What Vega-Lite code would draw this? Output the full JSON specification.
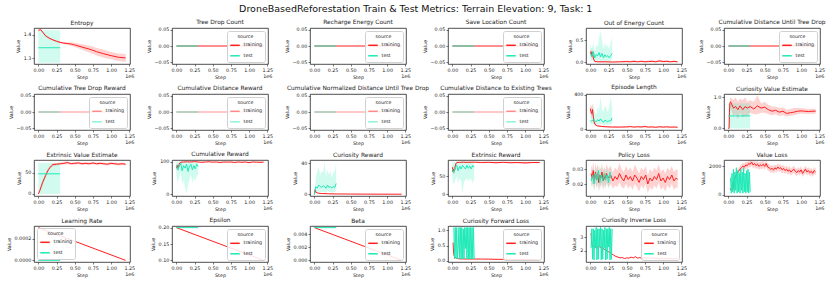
{
"$schema":"https://vega.github.io/schema/vega-lite/v6.json",
"padding":{"left":5,"right":2,"top":3,"bottom":2},
"title":{"text":"DroneBasedReforestation Train & Test Metrics: Terrain Elevation: 9, Task: 1","fontSize":9.5,"fontWeight":"normal","anchor":"middle","offset":5,"color":"#111"},
"config":{
 "font":"DejaVu Sans",
 "view":{"stroke":"#222","strokeWidth":0.8},
 "axis":{"grid":false,"domain":false,"labelFontSize":4.8,"titleFontSize":4.8,"titleFontWeight":"normal","tickSize":2,"tickWidth":0.6,"tickColor":"#222","labelColor":"#222","titleColor":"#222","labelPadding":1.2,"titlePadding":2,"labelOverlap":false},
 "axisX":{"labelFlush":false},
 "axisY":{"titlePadding":3},
 "title":{"fontSize":5.9,"fontWeight":"normal","offset":2,"color":"#222"},
 "legend":{"fillColor":"rgba(255,255,255,0.85)","strokeColor":"#d0d0d0","cornerRadius":2,"padding":2.5,"offset":3,"titleFontSize":4.8,"titleFontWeight":"normal","titleAnchor":"middle","titlePadding":1.5,"labelFontSize":4.8,"labelOffset":3,"symbolType":"stroke","symbolSize":90,"symbolStrokeWidth":1.5,"rowPadding":1.5,"titleColor":"#222","labelColor":"#222"}
},
"resolve":{"scale":{"x":"independent","y":"independent","color":"independent","fill":"independent"},"legend":{"color":"independent","fill":"independent"}},
"columns":6,
"bounds":"flush",
"spacing":{"row":30,"column":42},
"datasets":{
"zero":[{"s":"training","x":0,"y":0},{"s":"training","x":1.2,"y":0},{"s":"test","x":0,"y":0},{"s":"test","x":0.3,"y":0}],
"entropy":[
{"s":"training","x":0,"y":1.42,"lo":1.417,"hi":1.423},{"s":"training","x":0.03,"y":1.423,"lo":1.42,"hi":1.426},{"s":"training","x":0.06,"y":1.412,"lo":1.408,"hi":1.416},{"s":"training","x":0.1,"y":1.396,"lo":1.392,"hi":1.4},{"s":"training","x":0.15,"y":1.386,"lo":1.382,"hi":1.39},{"s":"training","x":0.2,"y":1.379,"lo":1.375,"hi":1.383},{"s":"training","x":0.25,"y":1.373,"lo":1.369,"hi":1.377},{"s":"training","x":0.3,"y":1.368,"lo":1.364,"hi":1.372},{"s":"training","x":0.35,"y":1.365,"lo":1.36,"hi":1.37},{"s":"training","x":0.4,"y":1.363,"lo":1.357,"hi":1.369},{"s":"training","x":0.45,"y":1.361,"lo":1.354,"hi":1.368},{"s":"training","x":0.5,"y":1.357,"lo":1.348,"hi":1.366},{"s":"training","x":0.6,"y":1.348,"lo":1.336,"hi":1.36},{"s":"training","x":0.7,"y":1.339,"lo":1.324,"hi":1.354},{"s":"training","x":0.75,"y":1.334,"lo":1.318,"hi":1.35},{"s":"training","x":0.8,"y":1.328,"lo":1.312,"hi":1.344},{"s":"training","x":0.9,"y":1.319,"lo":1.302,"hi":1.336},{"s":"training","x":1.0,"y":1.311,"lo":1.295,"hi":1.327},{"s":"training","x":1.1,"y":1.304,"lo":1.288,"hi":1.32},{"s":"training","x":1.2,"y":1.301,"lo":1.284,"hi":1.318},
{"s":"test","x":0,"y":1.345,"lo":1.28,"hi":1.42},{"s":"test","x":0.1,"y":1.345,"lo":1.28,"hi":1.42},{"s":"test","x":0.2,"y":1.345,"lo":1.28,"hi":1.42},{"s":"test","x":0.3,"y":1.345,"lo":1.28,"hi":1.42}],
"outEnergy":[
{"s":"training","x":0,"y":0.2,"lo":0.12,"hi":0.28},{"s":"training","x":0.01,"y":0.24,"lo":0.15,"hi":0.32},{"s":"training","x":0.02,"y":0.15,"lo":0.08,"hi":0.25},{"s":"training","x":0.03,"y":0.22,"lo":0.12,"hi":0.3},{"s":"training","x":0.04,"y":0.1,"lo":0.05,"hi":0.18},{"s":"training","x":0.05,"y":0.05,"lo":0.02,"hi":0.08},{"s":"training","x":0.06,"y":0.02,"lo":0,"hi":0.04},{"s":"training","x":0.1,"y":0.01,"lo":0,"hi":0.02},{"s":"training","x":0.2,"y":0.01,"lo":0,"hi":0.02},{"s":"training","x":0.3,"y":0.005,"lo":0,"hi":0.01},{"s":"training","x":0.4,"y":0.01,"lo":0,"hi":0.02},{"s":"training","x":0.5,"y":0.015,"lo":0,"hi":0.04},{"s":"training","x":0.55,"y":0.01,"lo":0,"hi":0.03},{"s":"training","x":0.6,"y":0.02,"lo":0,"hi":0.05},{"s":"training","x":0.65,"y":0.01,"lo":0,"hi":0.02},{"s":"training","x":0.7,"y":0.02,"lo":0,"hi":0.04},{"s":"training","x":0.75,"y":0.01,"lo":0,"hi":0.03},{"s":"training","x":0.8,"y":0.015,"lo":0,"hi":0.04},{"s":"training","x":0.85,"y":0.02,"lo":0,"hi":0.05},{"s":"training","x":0.9,"y":0.01,"lo":0,"hi":0.03},{"s":"training","x":0.95,"y":0.03,"lo":0,"hi":0.06},{"s":"training","x":1.0,"y":0.015,"lo":0,"hi":0.04},{"s":"training","x":1.05,"y":0.02,"lo":0,"hi":0.05},{"s":"training","x":1.1,"y":0.01,"lo":0,"hi":0.03},{"s":"training","x":1.15,"y":0.02,"lo":0,"hi":0.04},{"s":"training","x":1.2,"y":0.01,"lo":0,"hi":0.02},
{"s":"test","x":0,"y":0.22,"lo":0.05,"hi":0.42},{"s":"test","x":0.02,"y":0.12,"lo":0.02,"hi":0.3},{"s":"test","x":0.04,"y":0.25,"lo":0.08,"hi":0.45},{"s":"test","x":0.06,"y":0.1,"lo":0.02,"hi":0.25},{"s":"test","x":0.08,"y":0.18,"lo":0.05,"hi":0.4},{"s":"test","x":0.1,"y":0.14,"lo":0.03,"hi":0.35},{"s":"test","x":0.12,"y":0.22,"lo":0.05,"hi":0.55},{"s":"test","x":0.14,"y":0.12,"lo":0.02,"hi":0.72},{"s":"test","x":0.16,"y":0.2,"lo":0.05,"hi":0.5},{"s":"test","x":0.18,"y":0.1,"lo":0.02,"hi":0.3},{"s":"test","x":0.2,"y":0.17,"lo":0.04,"hi":0.45},{"s":"test","x":0.22,"y":0.12,"lo":0.03,"hi":0.35},{"s":"test","x":0.24,"y":0.15,"lo":0.03,"hi":0.4},{"s":"test","x":0.26,"y":0.1,"lo":0.02,"hi":0.3},{"s":"test","x":0.28,"y":0.15,"lo":0.04,"hi":0.45},{"s":"test","x":0.3,"y":0.2,"lo":0.05,"hi":0.6}],
"episodeLength":[
{"s":"training","x":0,"y":240,"lo":180,"hi":300},{"s":"training","x":0.01,"y":200,"lo":150,"hi":260},{"s":"training","x":0.02,"y":180,"lo":120,"hi":280},{"s":"training","x":0.03,"y":230,"lo":160,"hi":300},{"s":"training","x":0.04,"y":150,"lo":100,"hi":220},{"s":"training","x":0.05,"y":90,"lo":60,"hi":140},{"s":"training","x":0.06,"y":60,"lo":40,"hi":90},{"s":"training","x":0.08,"y":45,"lo":35,"hi":60},{"s":"training","x":0.1,"y":38,"lo":30,"hi":48},{"s":"training","x":0.15,"y":32,"lo":26,"hi":40},{"s":"training","x":0.2,"y":28,"lo":22,"hi":35},{"s":"training","x":0.3,"y":25,"lo":20,"hi":30},{"s":"training","x":0.4,"y":24,"lo":19,"hi":30},{"s":"training","x":0.5,"y":26,"lo":20,"hi":35},{"s":"training","x":0.55,"y":30,"lo":22,"hi":40},{"s":"training","x":0.6,"y":24,"lo":18,"hi":30},{"s":"training","x":0.65,"y":28,"lo":20,"hi":38},{"s":"training","x":0.7,"y":25,"lo":18,"hi":32},{"s":"training","x":0.75,"y":30,"lo":22,"hi":42},{"s":"training","x":0.8,"y":24,"lo":18,"hi":30},{"s":"training","x":0.85,"y":26,"lo":20,"hi":34},{"s":"training","x":0.9,"y":22,"lo":17,"hi":28},{"s":"training","x":0.95,"y":28,"lo":20,"hi":36},{"s":"training","x":1.0,"y":24,"lo":18,"hi":30},{"s":"training","x":1.05,"y":27,"lo":20,"hi":35},{"s":"training","x":1.1,"y":23,"lo":17,"hi":28},{"s":"training","x":1.15,"y":25,"lo":19,"hi":32},{"s":"training","x":1.2,"y":22,"lo":17,"hi":27},
{"s":"test","x":0,"y":100,"lo":60,"hi":160},{"s":"test","x":0.02,"y":90,"lo":50,"hi":180},{"s":"test","x":0.04,"y":115,"lo":60,"hi":300},{"s":"test","x":0.06,"y":100,"lo":55,"hi":200},{"s":"test","x":0.08,"y":85,"lo":50,"hi":170},{"s":"test","x":0.1,"y":110,"lo":60,"hi":260},{"s":"test","x":0.12,"y":95,"lo":55,"hi":220},{"s":"test","x":0.14,"y":120,"lo":60,"hi":390},{"s":"test","x":0.16,"y":95,"lo":50,"hi":230},{"s":"test","x":0.18,"y":80,"lo":45,"hi":200},{"s":"test","x":0.2,"y":105,"lo":55,"hi":280},{"s":"test","x":0.22,"y":95,"lo":50,"hi":240},{"s":"test","x":0.24,"y":85,"lo":50,"hi":200},{"s":"test","x":0.26,"y":100,"lo":55,"hi":260},{"s":"test","x":0.28,"y":95,"lo":50,"hi":380},{"s":"test","x":0.3,"y":130,"lo":70,"hi":250}],
"curiosityValue":[
{"s":"training","x":0,"y":0,"lo":0,"hi":0},{"s":"training","x":0.01,"y":0,"lo":0,"hi":0.05},{"s":"training","x":0.015,"y":0.5,"lo":0.2,"hi":0.8},{"s":"training","x":0.02,"y":0.8,"lo":0.6,"hi":0.95},{"s":"training","x":0.03,"y":0.85,"lo":0.65,"hi":1.0},{"s":"training","x":0.05,"y":0.75,"lo":0.5,"hi":0.95},{"s":"training","x":0.07,"y":0.65,"lo":0.4,"hi":0.9},{"s":"training","x":0.1,"y":0.7,"lo":0.45,"hi":1.0},{"s":"training","x":0.13,"y":0.6,"lo":0.3,"hi":0.85},{"s":"training","x":0.16,"y":0.72,"lo":0.5,"hi":0.95},{"s":"training","x":0.2,"y":0.6,"lo":0.35,"hi":0.9},{"s":"training","x":0.23,"y":0.7,"lo":0.4,"hi":1.0},{"s":"training","x":0.26,"y":0.65,"lo":0.4,"hi":0.85},{"s":"training","x":0.3,"y":0.7,"lo":0.5,"hi":0.9},{"s":"training","x":0.35,"y":0.62,"lo":0.45,"hi":0.85},{"s":"training","x":0.4,"y":0.72,"lo":0.45,"hi":1.05},{"s":"training","x":0.45,"y":0.65,"lo":0.5,"hi":0.8},{"s":"training","x":0.5,"y":0.68,"lo":0.5,"hi":0.85},{"s":"training","x":0.55,"y":0.6,"lo":0.45,"hi":0.75},{"s":"training","x":0.6,"y":0.55,"lo":0.42,"hi":0.7},{"s":"training","x":0.65,"y":0.58,"lo":0.45,"hi":0.7},{"s":"training","x":0.7,"y":0.52,"lo":0.4,"hi":0.65},{"s":"training","x":0.75,"y":0.55,"lo":0.42,"hi":0.68},{"s":"training","x":0.8,"y":0.48,"lo":0.38,"hi":0.6},{"s":"training","x":0.85,"y":0.5,"lo":0.4,"hi":0.62},{"s":"training","x":0.9,"y":0.52,"lo":0.42,"hi":0.65},{"s":"training","x":0.95,"y":0.55,"lo":0.45,"hi":0.65},{"s":"training","x":1.0,"y":0.56,"lo":0.48,"hi":0.65},{"s":"training","x":1.05,"y":0.55,"lo":0.47,"hi":0.64},{"s":"training","x":1.1,"y":0.54,"lo":0.46,"hi":0.62},{"s":"training","x":1.15,"y":0.55,"lo":0.47,"hi":0.63},{"s":"training","x":1.2,"y":0.55,"lo":0.47,"hi":0.63},
{"s":"test","x":0,"y":0.4,"lo":0,"hi":0.8},{"s":"test","x":0.1,"y":0.4,"lo":0,"hi":0.8},{"s":"test","x":0.2,"y":0.4,"lo":0,"hi":0.8},{"s":"test","x":0.3,"y":0.4,"lo":0,"hi":0.8}],
"extrinsicValue":[
{"s":"training","x":0,"y":0,"lo":-2,"hi":2},{"s":"training","x":0.02,"y":8,"lo":4,"hi":12},{"s":"training","x":0.04,"y":18,"lo":12,"hi":24},{"s":"training","x":0.06,"y":28,"lo":22,"hi":34},{"s":"training","x":0.08,"y":36,"lo":30,"hi":42},{"s":"training","x":0.1,"y":44,"lo":38,"hi":50},{"s":"training","x":0.12,"y":52,"lo":46,"hi":58},{"s":"training","x":0.14,"y":58,"lo":53,"hi":63},{"s":"training","x":0.16,"y":63,"lo":59,"hi":67},{"s":"training","x":0.18,"y":67,"lo":63,"hi":71},{"s":"training","x":0.2,"y":70,"lo":66,"hi":73},{"s":"training","x":0.25,"y":71,"lo":68,"hi":74},{"s":"training","x":0.3,"y":72,"lo":69,"hi":75},{"s":"training","x":0.35,"y":73,"lo":70,"hi":76},{"s":"training","x":0.4,"y":75,"lo":71,"hi":78},{"s":"training","x":0.45,"y":72,"lo":70,"hi":75},{"s":"training","x":0.5,"y":73,"lo":70,"hi":76},{"s":"training","x":0.55,"y":74,"lo":71,"hi":77},{"s":"training","x":0.6,"y":72,"lo":69,"hi":75},{"s":"training","x":0.65,"y":73,"lo":70,"hi":76},{"s":"training","x":0.7,"y":72,"lo":69,"hi":75},{"s":"training","x":0.75,"y":74,"lo":71,"hi":76},{"s":"training","x":0.8,"y":72,"lo":69,"hi":75},{"s":"training","x":0.85,"y":73,"lo":70,"hi":76},{"s":"training","x":0.9,"y":72,"lo":69,"hi":75},{"s":"training","x":0.95,"y":71,"lo":68,"hi":74},{"s":"training","x":1.0,"y":73,"lo":70,"hi":76},{"s":"training","x":1.05,"y":72,"lo":69,"hi":75},{"s":"training","x":1.1,"y":71,"lo":68,"hi":74},{"s":"training","x":1.15,"y":72,"lo":69,"hi":75},{"s":"training","x":1.2,"y":71,"lo":68,"hi":74},
{"s":"test","x":0,"y":48,"lo":0,"hi":74},{"s":"test","x":0.1,"y":48,"lo":0,"hi":74},{"s":"test","x":0.2,"y":48,"lo":0,"hi":74},{"s":"test","x":0.3,"y":48,"lo":0,"hi":74}],
"cumReward":[
{"s":"training","x":0,"y":85,"lo":75,"hi":95},{"s":"training","x":0.01,"y":80,"lo":70,"hi":90},{"s":"training","x":0.02,"y":88,"lo":78,"hi":96},{"s":"training","x":0.03,"y":82,"lo":72,"hi":92},{"s":"training","x":0.04,"y":92,"lo":85,"hi":98},{"s":"training","x":0.05,"y":96,"lo":90,"hi":100},{"s":"training","x":0.06,"y":98,"lo":95,"hi":100},{"s":"training","x":0.08,"y":99,"lo":97,"hi":100},{"s":"training","x":0.1,"y":99,"lo":98,"hi":100},{"s":"training","x":0.15,"y":99.5,"lo":99,"hi":100},{"s":"training","x":0.2,"y":99,"lo":98,"hi":100},{"s":"training","x":0.25,"y":100,"lo":99,"hi":100},{"s":"training","x":0.3,"y":99,"lo":98,"hi":100},{"s":"training","x":0.35,"y":98,"lo":96,"hi":100},{"s":"training","x":0.4,"y":99,"lo":98,"hi":100},{"s":"training","x":0.45,"y":99.5,"lo":99,"hi":100},{"s":"training","x":0.5,"y":98.5,"lo":97,"hi":100},{"s":"training","x":0.55,"y":99,"lo":98,"hi":100},{"s":"training","x":0.6,"y":97.5,"lo":95,"hi":100},{"s":"training","x":0.65,"y":99,"lo":98,"hi":100},{"s":"training","x":0.7,"y":98.5,"lo":97,"hi":100},{"s":"training","x":0.75,"y":99,"lo":98,"hi":100},{"s":"training","x":0.8,"y":97.5,"lo":95,"hi":100},{"s":"training","x":0.85,"y":99,"lo":98,"hi":100},{"s":"training","x":0.9,"y":98,"lo":96,"hi":100},{"s":"training","x":0.95,"y":99,"lo":98,"hi":100},{"s":"training","x":1.0,"y":97,"lo":94,"hi":100},{"s":"training","x":1.05,"y":99,"lo":98,"hi":100},{"s":"training","x":1.1,"y":98.5,"lo":97,"hi":100},{"s":"training","x":1.15,"y":98,"lo":96,"hi":100},{"s":"training","x":1.2,"y":98.5,"lo":97,"hi":100},
{"s":"test","x":0,"y":90,"lo":60,"hi":100},{"s":"test","x":0.02,"y":75,"lo":35,"hi":100},{"s":"test","x":0.04,"y":88,"lo":50,"hi":100},{"s":"test","x":0.06,"y":95,"lo":70,"hi":100},{"s":"test","x":0.08,"y":72,"lo":30,"hi":100},{"s":"test","x":0.1,"y":88,"lo":45,"hi":100},{"s":"test","x":0.12,"y":80,"lo":20,"hi":100},{"s":"test","x":0.14,"y":92,"lo":0,"hi":100},{"s":"test","x":0.16,"y":70,"lo":30,"hi":100},{"s":"test","x":0.18,"y":86,"lo":45,"hi":100},{"s":"test","x":0.2,"y":92,"lo":60,"hi":100},{"s":"test","x":0.22,"y":75,"lo":35,"hi":100},{"s":"test","x":0.24,"y":88,"lo":50,"hi":100},{"s":"test","x":0.26,"y":78,"lo":40,"hi":100},{"s":"test","x":0.28,"y":92,"lo":55,"hi":100},{"s":"test","x":0.3,"y":85,"lo":60,"hi":100}],
"curiosityReward":[
{"s":"training","x":0,"y":0,"lo":0,"hi":0},{"s":"training","x":0.01,"y":6,"lo":3,"hi":9},{"s":"training","x":0.02,"y":3,"lo":2,"hi":4},{"s":"training","x":0.04,"y":2,"lo":1.5,"hi":2.5},{"s":"training","x":0.06,"y":1.5,"lo":1.2,"hi":1.8},{"s":"training","x":0.1,"y":1.2,"lo":1,"hi":1.4},{"s":"training","x":0.2,"y":0.8,"lo":0.6,"hi":1},{"s":"training","x":0.3,"y":0.6,"lo":0.5,"hi":0.7},{"s":"training","x":0.5,"y":0.5,"lo":0.4,"hi":0.6},{"s":"training","x":0.7,"y":0.4,"lo":0.3,"hi":0.5},{"s":"training","x":0.9,"y":0.35,"lo":0.3,"hi":0.4},{"s":"training","x":1.2,"y":0.3,"lo":0.25,"hi":0.35},
{"s":"test","x":0,"y":0,"lo":0,"hi":0},{"s":"test","x":0.02,"y":10,"lo":3,"hi":22},{"s":"test","x":0.04,"y":8,"lo":3,"hi":30},{"s":"test","x":0.06,"y":12,"lo":4,"hi":35},{"s":"test","x":0.08,"y":10,"lo":3,"hi":25},{"s":"test","x":0.1,"y":9,"lo":3,"hi":30},{"s":"test","x":0.12,"y":11,"lo":3,"hi":28},{"s":"test","x":0.14,"y":10,"lo":3,"hi":42},{"s":"test","x":0.16,"y":8,"lo":2,"hi":22},{"s":"test","x":0.18,"y":12,"lo":4,"hi":32},{"s":"test","x":0.2,"y":9,"lo":3,"hi":25},{"s":"test","x":0.22,"y":10,"lo":3,"hi":30},{"s":"test","x":0.24,"y":8,"lo":2,"hi":22},{"s":"test","x":0.26,"y":10,"lo":3,"hi":28},{"s":"test","x":0.28,"y":9,"lo":3,"hi":30},{"s":"test","x":0.3,"y":14,"lo":5,"hi":40}],
"extrinsicReward":[
{"s":"training","x":0,"y":75,"lo":65,"hi":85},{"s":"training","x":0.01,"y":62,"lo":52,"hi":72},{"s":"training","x":0.02,"y":70,"lo":60,"hi":80},{"s":"training","x":0.03,"y":65,"lo":55,"hi":75},{"s":"training","x":0.04,"y":78,"lo":70,"hi":85},{"s":"training","x":0.05,"y":85,"lo":80,"hi":89},{"s":"training","x":0.06,"y":88,"lo":86,"hi":90},{"s":"training","x":0.1,"y":88.5,"lo":87,"hi":90},{"s":"training","x":0.15,"y":89,"lo":88,"hi":90},{"s":"training","x":0.2,"y":88.5,"lo":87,"hi":90},{"s":"training","x":0.3,"y":89,"lo":88,"hi":90},{"s":"training","x":0.4,"y":88,"lo":86,"hi":90},{"s":"training","x":0.5,"y":88.5,"lo":87,"hi":90},{"s":"training","x":0.6,"y":87.5,"lo":85,"hi":90},{"s":"training","x":0.7,"y":88.5,"lo":87,"hi":90},{"s":"training","x":0.8,"y":87.5,"lo":85,"hi":90},{"s":"training","x":0.9,"y":88,"lo":86,"hi":90},{"s":"training","x":1.0,"y":87,"lo":84,"hi":90},{"s":"training","x":1.1,"y":88,"lo":86,"hi":90},{"s":"training","x":1.2,"y":88,"lo":86,"hi":90},
{"s":"test","x":0,"y":70,"lo":40,"hi":90},{"s":"test","x":0.02,"y":60,"lo":25,"hi":88},{"s":"test","x":0.04,"y":75,"lo":40,"hi":90},{"s":"test","x":0.06,"y":80,"lo":50,"hi":90},{"s":"test","x":0.08,"y":65,"lo":30,"hi":88},{"s":"test","x":0.1,"y":78,"lo":45,"hi":90},{"s":"test","x":0.12,"y":70,"lo":35,"hi":90},{"s":"test","x":0.14,"y":80,"lo":0,"hi":90},{"s":"test","x":0.16,"y":75,"lo":35,"hi":90},{"s":"test","x":0.18,"y":70,"lo":40,"hi":90},{"s":"test","x":0.2,"y":80,"lo":45,"hi":90},{"s":"test","x":0.22,"y":72,"lo":35,"hi":90},{"s":"test","x":0.24,"y":78,"lo":45,"hi":90},{"s":"test","x":0.26,"y":70,"lo":40,"hi":90},{"s":"test","x":0.28,"y":80,"lo":30,"hi":90},{"s":"test","x":0.3,"y":75,"lo":45,"hi":90}],
"policyLoss":[
{"s":"training","x":0.01,"y":0.027,"lo":0.021,"hi":0.033},{"s":"training","x":0.025,"y":0.024,"lo":0.018,"hi":0.03},{"s":"training","x":0.04,"y":0.029,"lo":0.022,"hi":0.035},{"s":"training","x":0.055,"y":0.022,"lo":0.016,"hi":0.028},{"s":"training","x":0.07,"y":0.028,"lo":0.021,"hi":0.034},{"s":"training","x":0.085,"y":0.023,"lo":0.017,"hi":0.03},{"s":"training","x":0.1,"y":0.027,"lo":0.02,"hi":0.033},{"s":"training","x":0.115,"y":0.021,"lo":0.015,"hi":0.028},{"s":"training","x":0.13,"y":0.026,"lo":0.02,"hi":0.032},{"s":"training","x":0.145,"y":0.024,"lo":0.018,"hi":0.03},{"s":"training","x":0.16,"y":0.028,"lo":0.021,"hi":0.034},{"s":"training","x":0.175,"y":0.022,"lo":0.016,"hi":0.029},{"s":"training","x":0.19,"y":0.025,"lo":0.019,"hi":0.031},{"s":"training","x":0.205,"y":0.023,"lo":0.017,"hi":0.029},{"s":"training","x":0.22,"y":0.027,"lo":0.021,"hi":0.033},{"s":"training","x":0.25,"y":0.024,"lo":0.018,"hi":0.03},{"s":"training","x":0.28,"y":0.026,"lo":0.02,"hi":0.032},{"s":"training","x":0.31,"y":0.022,"lo":0.017,"hi":0.028},{"s":"training","x":0.34,"y":0.025,"lo":0.019,"hi":0.031},{"s":"training","x":0.37,"y":0.023,"lo":0.018,"hi":0.029},{"s":"training","x":0.4,"y":0.027,"lo":0.021,"hi":0.034},{"s":"training","x":0.43,"y":0.024,"lo":0.018,"hi":0.03},{"s":"training","x":0.46,"y":0.022,"lo":0.017,"hi":0.028},{"s":"training","x":0.49,"y":0.026,"lo":0.02,"hi":0.032},{"s":"training","x":0.52,"y":0.023,"lo":0.017,"hi":0.029},{"s":"training","x":0.55,"y":0.025,"lo":0.019,"hi":0.031},{"s":"training","x":0.58,"y":0.022,"lo":0.016,"hi":0.028},{"s":"training","x":0.61,"y":0.026,"lo":0.02,"hi":0.033},{"s":"training","x":0.64,"y":0.024,"lo":0.018,"hi":0.03},{"s":"training","x":0.67,"y":0.021,"lo":0.015,"hi":0.027},{"s":"training","x":0.7,"y":0.025,"lo":0.019,"hi":0.031},{"s":"training","x":0.73,"y":0.023,"lo":0.017,"hi":0.029},{"s":"training","x":0.76,"y":0.026,"lo":0.02,"hi":0.032},{"s":"training","x":0.79,"y":0.02,"lo":0.014,"hi":0.026},{"s":"training","x":0.82,"y":0.024,"lo":0.018,"hi":0.03},{"s":"training","x":0.85,"y":0.022,"lo":0.016,"hi":0.028},{"s":"training","x":0.88,"y":0.025,"lo":0.019,"hi":0.031},{"s":"training","x":0.91,"y":0.023,"lo":0.017,"hi":0.029},{"s":"training","x":0.94,"y":0.027,"lo":0.021,"hi":0.033},{"s":"training","x":0.97,"y":0.022,"lo":0.016,"hi":0.028},{"s":"training","x":1.0,"y":0.024,"lo":0.018,"hi":0.03},{"s":"training","x":1.03,"y":0.021,"lo":0.015,"hi":0.027},{"s":"training","x":1.06,"y":0.025,"lo":0.019,"hi":0.031},{"s":"training","x":1.09,"y":0.023,"lo":0.017,"hi":0.029},{"s":"training","x":1.12,"y":0.026,"lo":0.02,"hi":0.032},{"s":"training","x":1.15,"y":0.022,"lo":0.016,"hi":0.028},{"s":"training","x":1.18,"y":0.024,"lo":0.018,"hi":0.03},{"s":"training","x":1.2,"y":0.023,"lo":0.017,"hi":0.029},
{"s":"test","x":0.01,"y":0.022,"lo":0.017,"hi":0.027},{"s":"test","x":0.03,"y":0.026,"lo":0.021,"hi":0.031},{"s":"test","x":0.05,"y":0.02,"lo":0.015,"hi":0.025},{"s":"test","x":0.07,"y":0.027,"lo":0.022,"hi":0.032},{"s":"test","x":0.09,"y":0.023,"lo":0.018,"hi":0.028},{"s":"test","x":0.11,"y":0.029,"lo":0.023,"hi":0.034},{"s":"test","x":0.13,"y":0.021,"lo":0.015,"hi":0.026},{"s":"test","x":0.15,"y":0.026,"lo":0.021,"hi":0.031},{"s":"test","x":0.17,"y":0.022,"lo":0.017,"hi":0.027},{"s":"test","x":0.19,"y":0.027,"lo":0.022,"hi":0.032},{"s":"test","x":0.21,"y":0.023,"lo":0.018,"hi":0.028},{"s":"test","x":0.23,"y":0.026,"lo":0.021,"hi":0.031},{"s":"test","x":0.25,"y":0.021,"lo":0.016,"hi":0.026},{"s":"test","x":0.27,"y":0.028,"lo":0.023,"hi":0.033},{"s":"test","x":0.28,"y":0.024,"lo":0.019,"hi":0.029}],
"valueLoss":[
{"s":"training","x":0.02,"y":400,"lo":300,"hi":500},{"s":"training","x":0.04,"y":350,"lo":250,"hi":450},{"s":"training","x":0.06,"y":300,"lo":200,"hi":450},{"s":"training","x":0.07,"y":700,"lo":450,"hi":950},{"s":"training","x":0.08,"y":1000,"lo":750,"hi":1250},{"s":"training","x":0.1,"y":1300,"lo":1050,"hi":1550},{"s":"training","x":0.12,"y":1500,"lo":1250,"hi":1750},{"s":"training","x":0.14,"y":1650,"lo":1400,"hi":1900},{"s":"training","x":0.16,"y":1800,"lo":1550,"hi":2050},{"s":"training","x":0.18,"y":1900,"lo":1650,"hi":2150},{"s":"training","x":0.2,"y":2000,"lo":1750,"hi":2250},{"s":"training","x":0.22,"y":1950,"lo":1700,"hi":2200},{"s":"training","x":0.24,"y":2100,"lo":1850,"hi":2350},{"s":"training","x":0.26,"y":2050,"lo":1800,"hi":2300},{"s":"training","x":0.28,"y":2200,"lo":1950,"hi":2400},{"s":"training","x":0.3,"y":2150,"lo":1900,"hi":2400},{"s":"training","x":0.32,"y":2300,"lo":2050,"hi":2450},{"s":"training","x":0.34,"y":2100,"lo":1850,"hi":2350},{"s":"training","x":0.36,"y":2200,"lo":1950,"hi":2400},{"s":"training","x":0.38,"y":2050,"lo":1800,"hi":2300},{"s":"training","x":0.4,"y":2150,"lo":1900,"hi":2400},{"s":"training","x":0.42,"y":2000,"lo":1750,"hi":2250},{"s":"training","x":0.44,"y":2100,"lo":1850,"hi":2350},{"s":"training","x":0.46,"y":2050,"lo":1800,"hi":2300},{"s":"training","x":0.48,"y":2150,"lo":1900,"hi":2400},{"s":"training","x":0.5,"y":2000,"lo":1750,"hi":2250},{"s":"training","x":0.52,"y":2200,"lo":1950,"hi":2400},{"s":"training","x":0.54,"y":1950,"lo":1700,"hi":2200},{"s":"training","x":0.56,"y":1900,"lo":1650,"hi":2150},{"s":"training","x":0.58,"y":1800,"lo":1550,"hi":2050},{"s":"training","x":0.6,"y":1850,"lo":1600,"hi":2100},{"s":"training","x":0.62,"y":1750,"lo":1500,"hi":2000},{"s":"training","x":0.64,"y":1900,"lo":1650,"hi":2150},{"s":"training","x":0.66,"y":1800,"lo":1550,"hi":2050},{"s":"training","x":0.68,"y":1950,"lo":1700,"hi":2200},{"s":"training","x":0.7,"y":1850,"lo":1600,"hi":2100},{"s":"training","x":0.72,"y":1900,"lo":1650,"hi":2150},{"s":"training","x":0.74,"y":1750,"lo":1500,"hi":2000},{"s":"training","x":0.76,"y":1850,"lo":1600,"hi":2100},{"s":"training","x":0.78,"y":1700,"lo":1450,"hi":1950},{"s":"training","x":0.8,"y":1800,"lo":1550,"hi":2050},{"s":"training","x":0.82,"y":1650,"lo":1400,"hi":1900},{"s":"training","x":0.84,"y":1750,"lo":1500,"hi":2000},{"s":"training","x":0.86,"y":1600,"lo":1350,"hi":1850},{"s":"training","x":0.88,"y":1700,"lo":1450,"hi":1950},{"s":"training","x":0.9,"y":1800,"lo":1550,"hi":2050},{"s":"training","x":0.92,"y":1650,"lo":1400,"hi":1900},{"s":"training","x":0.94,"y":1550,"lo":1300,"hi":1800},{"s":"training","x":0.96,"y":1700,"lo":1450,"hi":1950},{"s":"training","x":0.98,"y":1600,"lo":1350,"hi":1850},{"s":"training","x":1.0,"y":1750,"lo":1500,"hi":2000},{"s":"training","x":1.02,"y":1500,"lo":1250,"hi":1750},{"s":"training","x":1.04,"y":1650,"lo":1400,"hi":1900},{"s":"training","x":1.06,"y":1800,"lo":1550,"hi":2050},{"s":"training","x":1.08,"y":1600,"lo":1350,"hi":1850},{"s":"training","x":1.1,"y":1700,"lo":1450,"hi":1950},{"s":"training","x":1.12,"y":1550,"lo":1300,"hi":1800},{"s":"training","x":1.14,"y":1650,"lo":1400,"hi":1900},{"s":"training","x":1.16,"y":1500,"lo":1250,"hi":1750},{"s":"training","x":1.18,"y":1700,"lo":1450,"hi":1950},{"s":"training","x":1.2,"y":1600,"lo":1350,"hi":1850},
{"s":"test","x":0.03,"y":1200},{"s":"test","x":0.04,"y":100},{"s":"test","x":0.05,"y":1500},{"s":"test","x":0.06,"y":200},{"s":"test","x":0.07,"y":1800},{"s":"test","x":0.08,"y":100},{"s":"test","x":0.09,"y":1600},{"s":"test","x":0.1,"y":300},{"s":"test","x":0.11,"y":1900},{"s":"test","x":0.12,"y":100},{"s":"test","x":0.13,"y":1700},{"s":"test","x":0.14,"y":200},{"s":"test","x":0.15,"y":1500},{"s":"test","x":0.16,"y":100},{"s":"test","x":0.17,"y":1800},{"s":"test","x":0.18,"y":300},{"s":"test","x":0.19,"y":1600},{"s":"test","x":0.2,"y":100},{"s":"test","x":0.21,"y":1900},{"s":"test","x":0.22,"y":200},{"s":"test","x":0.23,"y":1500},{"s":"test","x":0.24,"y":100},{"s":"test","x":0.25,"y":1700},{"s":"test","x":0.26,"y":200},{"s":"test","x":0.27,"y":1800},{"s":"test","x":0.28,"y":100},{"s":"test","x":0.29,"y":1600},{"s":"test","x":0.3,"y":200}],
"learningRate":[{"s":"training","x":0,"y":0.0003},{"s":"training","x":1.2,"y":0.0},{"s":"test","x":0,"y":0},{"s":"test","x":0.3,"y":0}],
"epsilon":[{"s":"training","x":0,"y":0.2},{"s":"training","x":1.2,"y":0.1},{"s":"test","x":0,"y":0.2},{"s":"test","x":0.3,"y":0.2}],
"beta":[{"s":"training","x":0,"y":0.005},{"s":"training","x":1.2,"y":0.00001},{"s":"test","x":0,"y":0.005},{"s":"test","x":0.3,"y":0.005}],
"forwardLoss":[
{"s":"training","x":0.01,"y":0.6},{"s":"training","x":0.015,"y":0.35},{"s":"training","x":0.02,"y":0.2},{"s":"training","x":0.03,"y":0.12},{"s":"training","x":0.05,"y":0.08},{"s":"training","x":0.08,"y":0.06},{"s":"training","x":0.1,"y":0.055},{"s":"training","x":0.2,"y":0.05},{"s":"training","x":0.3,"y":0.05},{"s":"training","x":0.4,"y":0.048},{"s":"training","x":0.5,"y":0.045},{"s":"training","x":0.6,"y":0.04},{"s":"training","x":0.7,"y":0.038},{"s":"training","x":0.8,"y":0.035},{"s":"training","x":0.9,"y":0.032},{"s":"training","x":1.0,"y":0.03},{"s":"training","x":1.1,"y":0.028},{"s":"training","x":1.2,"y":0.025},
{"s":"test","x":0.02,"y":1.1},{"s":"test","x":0.03,"y":0.05},{"s":"test","x":0.04,"y":1.1},{"s":"test","x":0.05,"y":0.1},{"s":"test","x":0.06,"y":1.1},{"s":"test","x":0.07,"y":0.05},{"s":"test","x":0.08,"y":0.4},{"s":"test","x":0.09,"y":1.1},{"s":"test","x":0.1,"y":0.05},{"s":"test","x":0.11,"y":1.1},{"s":"test","x":0.12,"y":0.05},{"s":"test","x":0.13,"y":1.1},{"s":"test","x":0.14,"y":0.05},{"s":"test","x":0.15,"y":1.05},{"s":"test","x":0.16,"y":0.05},{"s":"test","x":0.17,"y":1.1},{"s":"test","x":0.18,"y":0.4},{"s":"test","x":0.19,"y":1.1},{"s":"test","x":0.2,"y":0.05},{"s":"test","x":0.21,"y":1.1},{"s":"test","x":0.22,"y":0.05},{"s":"test","x":0.23,"y":1.1},{"s":"test","x":0.24,"y":0.05},{"s":"test","x":0.25,"y":1.1},{"s":"test","x":0.26,"y":0.05},{"s":"test","x":0.27,"y":1.1},{"s":"test","x":0.28,"y":0.05},{"s":"test","x":0.29,"y":1.1},{"s":"test","x":0.3,"y":0.05}],
"inverseLoss":[
{"s":"training","x":0.01,"y":3.3},{"s":"training","x":0.015,"y":2.8},{"s":"training","x":0.02,"y":2.5},{"s":"training","x":0.03,"y":2.35},{"s":"training","x":0.05,"y":2.3},{"s":"training","x":0.08,"y":2.3},{"s":"training","x":0.1,"y":2.25},{"s":"training","x":0.13,"y":2.3},{"s":"training","x":0.16,"y":2.2},{"s":"training","x":0.2,"y":2.1},{"s":"training","x":0.23,"y":2.0},{"s":"training","x":0.26,"y":1.9},{"s":"training","x":0.29,"y":1.8},{"s":"training","x":0.32,"y":1.7},{"s":"training","x":0.35,"y":1.6},{"s":"training","x":0.38,"y":1.55},{"s":"training","x":0.41,"y":1.5},{"s":"training","x":0.44,"y":1.52},{"s":"training","x":0.47,"y":1.45},{"s":"training","x":0.5,"y":1.5},{"s":"training","x":0.53,"y":1.48},{"s":"training","x":0.56,"y":1.55},{"s":"training","x":0.59,"y":1.5},{"s":"training","x":0.62,"y":1.58},{"s":"training","x":0.65,"y":1.48},{"s":"training","x":0.68,"y":1.52},{"s":"training","x":0.71,"y":1.45},{"s":"training","x":0.74,"y":1.5},{"s":"training","x":0.77,"y":1.48},{"s":"training","x":0.8,"y":1.52},{"s":"training","x":0.83,"y":1.45},{"s":"training","x":0.86,"y":1.5},{"s":"training","x":0.89,"y":1.44},{"s":"training","x":0.92,"y":1.48},{"s":"training","x":0.95,"y":1.42},{"s":"training","x":0.98,"y":1.46},{"s":"training","x":1.01,"y":1.43},{"s":"training","x":1.04,"y":1.47},{"s":"training","x":1.07,"y":1.42},{"s":"training","x":1.1,"y":1.45},{"s":"training","x":1.13,"y":1.41},{"s":"training","x":1.16,"y":1.44},{"s":"training","x":1.2,"y":1.42},
{"s":"test","x":0.01,"y":2.2},{"s":"test","x":0.02,"y":3.6},{"s":"test","x":0.03,"y":1.4},{"s":"test","x":0.04,"y":3.6},{"s":"test","x":0.05,"y":1.35},{"s":"test","x":0.06,"y":3.5},{"s":"test","x":0.07,"y":2.2},{"s":"test","x":0.08,"y":3.7},{"s":"test","x":0.09,"y":1.35},{"s":"test","x":0.1,"y":3.6},{"s":"test","x":0.11,"y":1.4},{"s":"test","x":0.12,"y":3.6},{"s":"test","x":0.13,"y":2.3},{"s":"test","x":0.14,"y":3.7},{"s":"test","x":0.15,"y":1.35},{"s":"test","x":0.16,"y":3.6},{"s":"test","x":0.17,"y":1.4},{"s":"test","x":0.18,"y":3.5},{"s":"test","x":0.19,"y":2.2},{"s":"test","x":0.2,"y":3.7},{"s":"test","x":0.21,"y":1.35},{"s":"test","x":0.22,"y":3.6},{"s":"test","x":0.23,"y":1.4},{"s":"test","x":0.24,"y":3.6},{"s":"test","x":0.25,"y":2.3},{"s":"test","x":0.26,"y":3.7},{"s":"test","x":0.27,"y":1.35},{"s":"test","x":0.28,"y":3.6},{"s":"test","x":0.29,"y":1.4},{"s":"test","x":0.3,"y":3.6}]
},
"concat":[
{"title":"Entropy","data":{"name":"entropy"},"width":96,"height":36,
 "encoding":{"x":{"field":"x","type":"quantitative","title":"Step","scale":{"domain":[-0.06,1.26],"nice":false},"axis":{"values":[0,0.25,0.5,0.75,1,1.25],"labelExpr":"datum.value==1.25?['1.25','1e6    ']:format(datum.value,'.2f')","titlePadding":-4.5}}},
 "layer":[
  {"mark":{"type":"area","opacity":0.2},"encoding":{"y":{"field":"lo","type":"quantitative","title":"Value","scale":{"domain":[1.275,1.43],"nice":false,"zero":false}},"y2":{"field":"hi"},"fill":{"field":"s","type":"nominal","scale":{"domain":["training","test"],"range":["#ff1f1f","#1de9b6"]},"legend":null}}},
  {"mark":{"type":"line","strokeWidth":1},"encoding":{"y":{"field":"y","type":"quantitative","title":"Value","scale":{"domain":[1.275,1.43],"nice":false,"zero":false},"axis":{"values":[1.3,1.4],"format":".1f"}},"color":{"field":"s","type":"nominal","title":"source","scale":{"domain":["training","test"],"range":["#ff1f1f","#1de9b6"]},"legend":{"orient":"top-right"}}}}
 ]},
{"title":"Tree Drop Count","data":{"name":"zero"},"width":96,"height":36,
 "encoding":{"x":{"field":"x","type":"quantitative","title":"Step","scale":{"domain":[-0.06,1.26],"nice":false},"axis":{"values":[0,0.25,0.5,0.75,1,1.25],"labelExpr":"datum.value==1.25?['1.25','1e6    ']:format(datum.value,'.2f')","titlePadding":-4.5}}},
 "layer":[
  {"mark":{"type":"line","strokeWidth":1},"encoding":{"y":{"field":"y","type":"quantitative","title":"Value","scale":{"domain":[-0.055,0.055],"nice":false,"zero":false},"axis":{"values":[-0.05,0,0.05],"format":".2f"}},"color":{"field":"s","type":"nominal","title":"source","scale":{"domain":["training","test"],"range":["#ff1f1f","#1de9b6"]},"legend":{"orient":"top-right"}}}}
 ]},
{"title":"Recharge Energy Count","data":{"name":"zero"},"width":96,"height":36,
 "encoding":{"x":{"field":"x","type":"quantitative","title":"Step","scale":{"domain":[-0.06,1.26],"nice":false},"axis":{"values":[0,0.25,0.5,0.75,1,1.25],"labelExpr":"datum.value==1.25?['1.25','1e6    ']:format(datum.value,'.2f')","titlePadding":-4.5}}},
 "layer":[
  {"mark":{"type":"line","strokeWidth":1},"encoding":{"y":{"field":"y","type":"quantitative","title":"Value","scale":{"domain":[-0.055,0.055],"nice":false,"zero":false},"axis":{"values":[-0.05,0,0.05],"format":".2f"}},"color":{"field":"s","type":"nominal","title":"source","scale":{"domain":["training","test"],"range":["#ff1f1f","#1de9b6"]},"legend":{"orient":"top-right"}}}}
 ]},
{"title":"Save Location Count","data":{"name":"zero"},"width":96,"height":36,
 "encoding":{"x":{"field":"x","type":"quantitative","title":"Step","scale":{"domain":[-0.06,1.26],"nice":false},"axis":{"values":[0,0.25,0.5,0.75,1,1.25],"labelExpr":"datum.value==1.25?['1.25','1e6    ']:format(datum.value,'.2f')","titlePadding":-4.5}}},
 "layer":[
  {"mark":{"type":"line","strokeWidth":1},"encoding":{"y":{"field":"y","type":"quantitative","title":"Value","scale":{"domain":[-0.055,0.055],"nice":false,"zero":false},"axis":{"values":[-0.05,0,0.05],"format":".2f"}},"color":{"field":"s","type":"nominal","title":"source","scale":{"domain":["training","test"],"range":["#ff1f1f","#1de9b6"]},"legend":{"orient":"top-right"}}}}
 ]},
{"title":"Out of Energy Count","data":{"name":"outEnergy"},"width":96,"height":36,
 "encoding":{"x":{"field":"x","type":"quantitative","title":"Step","scale":{"domain":[-0.06,1.26],"nice":false},"axis":{"values":[0,0.25,0.5,0.75,1,1.25],"labelExpr":"datum.value==1.25?['1.25','1e6    ']:format(datum.value,'.2f')","titlePadding":-4.5}}},
 "layer":[
  {"mark":{"type":"area","opacity":0.2},"encoding":{"y":{"field":"lo","type":"quantitative","title":"Value","scale":{"domain":[-0.04,0.78],"nice":false,"zero":false}},"y2":{"field":"hi"},"fill":{"field":"s","type":"nominal","scale":{"domain":["training","test"],"range":["#ff1f1f","#1de9b6"]},"legend":null}}},
  {"mark":{"type":"line","strokeWidth":1},"encoding":{"y":{"field":"y","type":"quantitative","title":"Value","scale":{"domain":[-0.04,0.78],"nice":false,"zero":false},"axis":{"values":[0,0.5],"format":".1f"}},"color":{"field":"s","type":"nominal","title":"source","scale":{"domain":["training","test"],"range":["#ff1f1f","#1de9b6"]},"legend":{"orient":"top-right"}}}}
 ]},
{"title":"Cumulative Distance Until Tree Drop","data":{"name":"zero"},"width":96,"height":36,
 "encoding":{"x":{"field":"x","type":"quantitative","title":"Step","scale":{"domain":[-0.06,1.26],"nice":false},"axis":{"values":[0,0.25,0.5,0.75,1,1.25],"labelExpr":"datum.value==1.25?['1.25','1e6    ']:format(datum.value,'.2f')","titlePadding":-4.5}}},
 "layer":[
  {"mark":{"type":"line","strokeWidth":1},"encoding":{"y":{"field":"y","type":"quantitative","title":"Value","scale":{"domain":[-0.055,0.055],"nice":false,"zero":false},"axis":{"values":[-0.05,0,0.05],"format":".2f"}},"color":{"field":"s","type":"nominal","title":"source","scale":{"domain":["training","test"],"range":["#ff1f1f","#1de9b6"]},"legend":{"orient":"top-right"}}}}
 ]},
{"title":"Cumulative Tree Drop Reward","data":{"name":"zero"},"width":96,"height":36,
 "encoding":{"x":{"field":"x","type":"quantitative","title":"Step","scale":{"domain":[-0.06,1.26],"nice":false},"axis":{"values":[0,0.25,0.5,0.75,1,1.25],"labelExpr":"datum.value==1.25?['1.25','1e6    ']:format(datum.value,'.2f')","titlePadding":-4.5}}},
 "layer":[
  {"mark":{"type":"line","strokeWidth":1.2,"opacity":0.5},"encoding":{"y":{"field":"y","type":"quantitative","title":"Value","scale":{"domain":[-0.055,0.055],"nice":false,"zero":false},"axis":{"values":[-0.05,0,0.05],"format":".2f"}},"color":{"field":"s","type":"nominal","title":"source","scale":{"domain":["training","test"],"range":["#ff1f1f","#1de9b6"]},"legend":{"orient":"top-right"}}}}
 ]},
{"title":"Cumulative Distance Reward","data":{"name":"zero"},"width":96,"height":36,
 "encoding":{"x":{"field":"x","type":"quantitative","title":"Step","scale":{"domain":[-0.06,1.26],"nice":false},"axis":{"values":[0,0.25,0.5,0.75,1,1.25],"labelExpr":"datum.value==1.25?['1.25','1e6    ']:format(datum.value,'.2f')","titlePadding":-4.5}}},
 "layer":[
  {"mark":{"type":"line","strokeWidth":1.2,"opacity":0.5},"encoding":{"y":{"field":"y","type":"quantitative","title":"Value","scale":{"domain":[-0.055,0.055],"nice":false,"zero":false},"axis":{"values":[-0.05,0,0.05],"format":".2f"}},"color":{"field":"s","type":"nominal","title":"source","scale":{"domain":["training","test"],"range":["#ff1f1f","#1de9b6"]},"legend":{"orient":"top-right"}}}}
 ]},
{"title":"Cumulative Normalized Distance Until Tree Drop","data":{"name":"zero"},"width":96,"height":36,
 "encoding":{"x":{"field":"x","type":"quantitative","title":"Step","scale":{"domain":[-0.06,1.26],"nice":false},"axis":{"values":[0,0.25,0.5,0.75,1,1.25],"labelExpr":"datum.value==1.25?['1.25','1e6    ']:format(datum.value,'.2f')","titlePadding":-4.5}}},
 "layer":[
  {"mark":{"type":"line","strokeWidth":1.2,"opacity":0.5},"encoding":{"y":{"field":"y","type":"quantitative","title":"Value","scale":{"domain":[-0.055,0.055],"nice":false,"zero":false},"axis":{"values":[-0.05,0,0.05],"format":".2f"}},"color":{"field":"s","type":"nominal","title":"source","scale":{"domain":["training","test"],"range":["#ff1f1f","#1de9b6"]},"legend":{"orient":"top-right"}}}}
 ]},
{"title":"Cumulative Distance to Existing Trees","data":{"name":"zero"},"width":96,"height":36,
 "encoding":{"x":{"field":"x","type":"quantitative","title":"Step","scale":{"domain":[-0.06,1.26],"nice":false},"axis":{"values":[0,0.25,0.5,0.75,1,1.25],"labelExpr":"datum.value==1.25?['1.25','1e6    ']:format(datum.value,'.2f')","titlePadding":-4.5}}},
 "layer":[
  {"mark":{"type":"line","strokeWidth":1.2,"opacity":0.5},"encoding":{"y":{"field":"y","type":"quantitative","title":"Value","scale":{"domain":[-0.055,0.055],"nice":false,"zero":false},"axis":{"values":[-0.05,0,0.05],"format":".2f"}},"color":{"field":"s","type":"nominal","title":"source","scale":{"domain":["training","test"],"range":["#ff1f1f","#1de9b6"]},"legend":{"orient":"top-right"}}}}
 ]},
{"title":"Episode Length","data":{"name":"episodeLength"},"width":96,"height":36,
 "encoding":{"x":{"field":"x","type":"quantitative","title":"Step","scale":{"domain":[-0.06,1.26],"nice":false},"axis":{"values":[0,0.25,0.5,0.75,1,1.25],"labelExpr":"datum.value==1.25?['1.25','1e6    ']:format(datum.value,'.2f')","titlePadding":-4.5}}},
 "layer":[
  {"mark":{"type":"area","opacity":0.2},"encoding":{"y":{"field":"lo","type":"quantitative","title":"Value","scale":{"domain":[-10,410],"nice":false,"zero":false}},"y2":{"field":"hi"},"fill":{"field":"s","type":"nominal","scale":{"domain":["training","test"],"range":["#ff1f1f","#1de9b6"]},"legend":null}}},
  {"mark":{"type":"line","strokeWidth":1},"encoding":{"y":{"field":"y","type":"quantitative","title":"Value","scale":{"domain":[-10,410],"nice":false,"zero":false},"axis":{"values":[0,200,400],"format":"d"}},"color":{"field":"s","type":"nominal","title":"source","scale":{"domain":["training","test"],"range":["#ff1f1f","#1de9b6"]},"legend":{"orient":"top-right"}}}}
 ]},
{"title":"Curiosity Value Estimate","data":{"name":"curiosityValue"},"width":96,"height":36,
 "encoding":{"x":{"field":"x","type":"quantitative","title":"Step","scale":{"domain":[-0.06,1.26],"nice":false},"axis":{"values":[0,0.25,0.5,0.75,1,1.25],"labelExpr":"datum.value==1.25?['1.25','1e6    ']:format(datum.value,'.2f')","titlePadding":-4.5}}},
 "layer":[
  {"mark":{"type":"area","opacity":0.2},"encoding":{"y":{"field":"lo","type":"quantitative","title":"Value","scale":{"domain":[-0.05,1.1],"nice":false,"zero":false}},"y2":{"field":"hi"},"fill":{"field":"s","type":"nominal","scale":{"domain":["training","test"],"range":["#ff1f1f","#1de9b6"]},"legend":null}}},
  {"mark":{"type":"line","strokeWidth":1},"encoding":{"y":{"field":"y","type":"quantitative","title":"Value","scale":{"domain":[-0.05,1.1],"nice":false,"zero":false},"axis":{"values":[0,0.5,1],"format":".1f"}},"color":{"field":"s","type":"nominal","title":"source","scale":{"domain":["training","test"],"range":["#ff1f1f","#1de9b6"]},"legend":{"orient":"none","legendX":29,"legendY":9}}}}
 ]},
{"title":"Extrinsic Value Estimate","data":{"name":"extrinsicValue"},"width":96,"height":36,
 "encoding":{"x":{"field":"x","type":"quantitative","title":"Step","scale":{"domain":[-0.06,1.26],"nice":false},"axis":{"values":[0,0.25,0.5,0.75,1,1.25],"labelExpr":"datum.value==1.25?['1.25','1e6    ']:format(datum.value,'.2f')","titlePadding":-4.5}}},
 "layer":[
  {"mark":{"type":"area","opacity":0.2},"encoding":{"y":{"field":"lo","type":"quantitative","title":"Value","scale":{"domain":[-5,81],"nice":false,"zero":false}},"y2":{"field":"hi"},"fill":{"field":"s","type":"nominal","scale":{"domain":["training","test"],"range":["#ff1f1f","#1de9b6"]},"legend":null}}},
  {"mark":{"type":"line","strokeWidth":1},"encoding":{"y":{"field":"y","type":"quantitative","title":"Value","scale":{"domain":[-5,81],"nice":false,"zero":false},"axis":{"values":[0,50],"format":"d"}},"color":{"field":"s","type":"nominal","title":"source","scale":{"domain":["training","test"],"range":["#ff1f1f","#1de9b6"]},"legend":{"orient":"bottom-right"}}}}
 ]},
{"title":"Cumulative Reward","data":{"name":"cumReward"},"width":96,"height":36,
 "encoding":{"x":{"field":"x","type":"quantitative","title":"Step","scale":{"domain":[-0.06,1.26],"nice":false},"axis":{"values":[0,0.25,0.5,0.75,1,1.25],"labelExpr":"datum.value==1.25?['1.25','1e6    ']:format(datum.value,'.2f')","titlePadding":-4.5}}},
 "layer":[
  {"mark":{"type":"area","opacity":0.2},"encoding":{"y":{"field":"lo","type":"quantitative","title":"Value","scale":{"domain":[-5,105],"nice":false,"zero":false}},"y2":{"field":"hi"},"fill":{"field":"s","type":"nominal","scale":{"domain":["training","test"],"range":["#ff1f1f","#1de9b6"]},"legend":null}}},
  {"mark":{"type":"line","strokeWidth":1},"encoding":{"y":{"field":"y","type":"quantitative","title":"Value","scale":{"domain":[-5,105],"nice":false,"zero":false},"axis":{"values":[0,50,100],"format":"d"}},"color":{"field":"s","type":"nominal","title":"source","scale":{"domain":["training","test"],"range":["#ff1f1f","#1de9b6"]},"legend":{"orient":"bottom-right"}}}}
 ]},
{"title":"Curiosity Reward","data":{"name":"curiosityReward"},"width":96,"height":36,
 "encoding":{"x":{"field":"x","type":"quantitative","title":"Step","scale":{"domain":[-0.06,1.26],"nice":false},"axis":{"values":[0,0.25,0.5,0.75,1,1.25],"labelExpr":"datum.value==1.25?['1.25','1e6    ']:format(datum.value,'.2f')","titlePadding":-4.5}}},
 "layer":[
  {"mark":{"type":"area","opacity":0.2},"encoding":{"y":{"field":"lo","type":"quantitative","title":"Value","scale":{"domain":[-2,44],"nice":false,"zero":false}},"y2":{"field":"hi"},"fill":{"field":"s","type":"nominal","scale":{"domain":["training","test"],"range":["#ff1f1f","#1de9b6"]},"legend":null}}},
  {"mark":{"type":"line","strokeWidth":1},"encoding":{"y":{"field":"y","type":"quantitative","title":"Value","scale":{"domain":[-2,44],"nice":false,"zero":false},"axis":{"values":[0,20,40],"format":"d"}},"color":{"field":"s","type":"nominal","title":"source","scale":{"domain":["training","test"],"range":["#ff1f1f","#1de9b6"]},"legend":{"orient":"top-right"}}}}
 ]},
{"title":"Extrinsic Reward","data":{"name":"extrinsicReward"},"width":96,"height":36,
 "encoding":{"x":{"field":"x","type":"quantitative","title":"Step","scale":{"domain":[-0.06,1.26],"nice":false},"axis":{"values":[0,0.25,0.5,0.75,1,1.25],"labelExpr":"datum.value==1.25?['1.25','1e6    ']:format(datum.value,'.2f')","titlePadding":-4.5}}},
 "layer":[
  {"mark":{"type":"area","opacity":0.2},"encoding":{"y":{"field":"lo","type":"quantitative","title":"Value","scale":{"domain":[-5,95],"nice":false,"zero":false}},"y2":{"field":"hi"},"fill":{"field":"s","type":"nominal","scale":{"domain":["training","test"],"range":["#ff1f1f","#1de9b6"]},"legend":null}}},
  {"mark":{"type":"line","strokeWidth":1},"encoding":{"y":{"field":"y","type":"quantitative","title":"Value","scale":{"domain":[-5,95],"nice":false,"zero":false},"axis":{"values":[0,50],"format":"d"}},"color":{"field":"s","type":"nominal","title":"source","scale":{"domain":["training","test"],"range":["#ff1f1f","#1de9b6"]},"legend":{"orient":"bottom-right"}}}}
 ]},
{"title":"Policy Loss","data":{"name":"policyLoss"},"width":96,"height":36,
 "encoding":{"x":{"field":"x","type":"quantitative","title":"Step","scale":{"domain":[-0.06,1.26],"nice":false},"axis":{"values":[0,0.25,0.5,0.75,1,1.25],"labelExpr":"datum.value==1.25?['1.25','1e6    ']:format(datum.value,'.2f')","titlePadding":-4.5}}},
 "layer":[
  {"mark":{"type":"area","opacity":0.2},"encoding":{"y":{"field":"lo","type":"quantitative","title":"Value","scale":{"domain":[0.012,0.036],"nice":false,"zero":false}},"y2":{"field":"hi"},"fill":{"field":"s","type":"nominal","scale":{"domain":["training","test"],"range":["#ff1f1f","#1de9b6"]},"legend":null}}},
  {"mark":{"type":"line","strokeWidth":1},"encoding":{"y":{"field":"y","type":"quantitative","title":"Value","scale":{"domain":[0.012,0.036],"nice":false,"zero":false},"axis":{"values":[0.02,0.03],"format":".2f"}},"color":{"field":"s","type":"nominal","title":"source","scale":{"domain":["training","test"],"range":["#ff1f1f","#1de9b6"]},"legend":{"orient":"top-right"}}}}
 ]},
{"title":"Value Loss","data":{"name":"valueLoss"},"width":96,"height":36,
 "encoding":{"x":{"field":"x","type":"quantitative","title":"Step","scale":{"domain":[-0.06,1.26],"nice":false},"axis":{"values":[0,0.25,0.5,0.75,1,1.25],"labelExpr":"datum.value==1.25?['1.25','1e6    ']:format(datum.value,'.2f')","titlePadding":-4.5}}},
 "layer":[
  {"mark":{"type":"area","opacity":0.2},"encoding":{"y":{"field":"lo","type":"quantitative","title":"Value","scale":{"domain":[-100,2450],"nice":false,"zero":false}},"y2":{"field":"hi"},"fill":{"field":"s","type":"nominal","scale":{"domain":["training","test"],"range":["#ff1f1f","#1de9b6"]},"legend":null}}},
  {"mark":{"type":"line","strokeWidth":1},"encoding":{"y":{"field":"y","type":"quantitative","title":"Value","scale":{"domain":[-100,2450],"nice":false,"zero":false},"axis":{"values":[0,1000,2000],"format":"d"}},"color":{"field":"s","type":"nominal","title":"source","scale":{"domain":["training","test"],"range":["#ff1f1f","#1de9b6"]},"legend":{"orient":"none","legendX":28,"legendY":10}}}}
 ]},
{"title":"Learning Rate","data":{"name":"learningRate"},"width":96,"height":36,
 "encoding":{"x":{"field":"x","type":"quantitative","title":"Step","scale":{"domain":[-0.06,1.26],"nice":false},"axis":{"values":[0,0.25,0.5,0.75,1,1.25],"labelExpr":"datum.value==1.25?['1.25','1e6    ']:format(datum.value,'.2f')","titlePadding":-4.5}}},
 "layer":[
  {"mark":{"type":"line","strokeWidth":1},"encoding":{"y":{"field":"y","type":"quantitative","title":"Value","scale":{"domain":[-0.000015,0.000315],"nice":false,"zero":false},"axis":{"values":[0,0.0002],"format":".4f"}},"color":{"field":"s","type":"nominal","title":"source","scale":{"domain":["training","test"],"range":["#ff1f1f","#1de9b6"]},"legend":{"orient":"bottom-left"}}}}
 ]},
{"title":"Epsilon","data":{"name":"epsilon"},"width":96,"height":36,
 "encoding":{"x":{"field":"x","type":"quantitative","title":"Step","scale":{"domain":[-0.06,1.26],"nice":false},"axis":{"values":[0,0.25,0.5,0.75,1,1.25],"labelExpr":"datum.value==1.25?['1.25','1e6    ']:format(datum.value,'.2f')","titlePadding":-4.5}}},
 "layer":[
  {"mark":{"type":"line","strokeWidth":1},"encoding":{"y":{"field":"y","type":"quantitative","title":"Value","scale":{"domain":[0.095,0.205],"nice":false,"zero":false},"axis":{"values":[0.1,0.15,0.2],"format":".2f"}},"color":{"field":"s","type":"nominal","title":"source","scale":{"domain":["training","test"],"range":["#ff1f1f","#1de9b6"]},"legend":{"orient":"top-right"}}}}
 ]},
{"title":"Beta","data":{"name":"beta"},"width":96,"height":36,
 "encoding":{"x":{"field":"x","type":"quantitative","title":"Step","scale":{"domain":[-0.06,1.26],"nice":false},"axis":{"values":[0,0.25,0.5,0.75,1,1.25],"labelExpr":"datum.value==1.25?['1.25','1e6    ']:format(datum.value,'.2f')","titlePadding":-4.5}}},
 "layer":[
  {"mark":{"type":"line","strokeWidth":1},"encoding":{"y":{"field":"y","type":"quantitative","title":"Value","scale":{"domain":[-0.00025,0.00525],"nice":false,"zero":false},"axis":{"values":[0,0.002,0.004],"format":".3f"}},"color":{"field":"s","type":"nominal","title":"source","scale":{"domain":["training","test"],"range":["#ff1f1f","#1de9b6"]},"legend":{"orient":"top-right"}}}}
 ]},
{"title":"Curiosity Forward Loss","data":{"name":"forwardLoss"},"width":96,"height":36,
 "encoding":{"x":{"field":"x","type":"quantitative","title":"Step","scale":{"domain":[-0.06,1.26],"nice":false},"axis":{"values":[0,0.25,0.5,0.75,1,1.25],"labelExpr":"datum.value==1.25?['1.25','1e6    ']:format(datum.value,'.2f')","titlePadding":-4.5}}},
 "layer":[
  {"mark":{"type":"line","strokeWidth":1},"encoding":{"y":{"field":"y","type":"quantitative","title":"Value","scale":{"domain":[-0.05,1.15],"nice":false,"zero":false},"axis":{"values":[0,0.5,1],"format":".1f"}},"color":{"field":"s","type":"nominal","title":"source","scale":{"domain":["training","test"],"range":["#ff1f1f","#1de9b6"]},"legend":{"orient":"top-right"}}}}
 ]},
{"title":"Curiosity Inverse Loss","data":{"name":"inverseLoss"},"width":96,"height":36,
 "encoding":{"x":{"field":"x","type":"quantitative","title":"Step","scale":{"domain":[-0.06,1.26],"nice":false},"axis":{"values":[0,0.25,0.5,0.75,1,1.25],"labelExpr":"datum.value==1.25?['1.25','1e6    ']:format(datum.value,'.2f')","titlePadding":-4.5}}},
 "layer":[
  {"mark":{"type":"line","strokeWidth":1},"encoding":{"y":{"field":"y","type":"quantitative","title":"Value","scale":{"domain":[1.2,3.8],"nice":false,"zero":false},"axis":{"values":[2,3],"format":"d"}},"color":{"field":"s","type":"nominal","title":"source","scale":{"domain":["training","test"],"range":["#ff1f1f","#1de9b6"]},"legend":{"orient":"top-right"}}}}
 ]}
]
}
